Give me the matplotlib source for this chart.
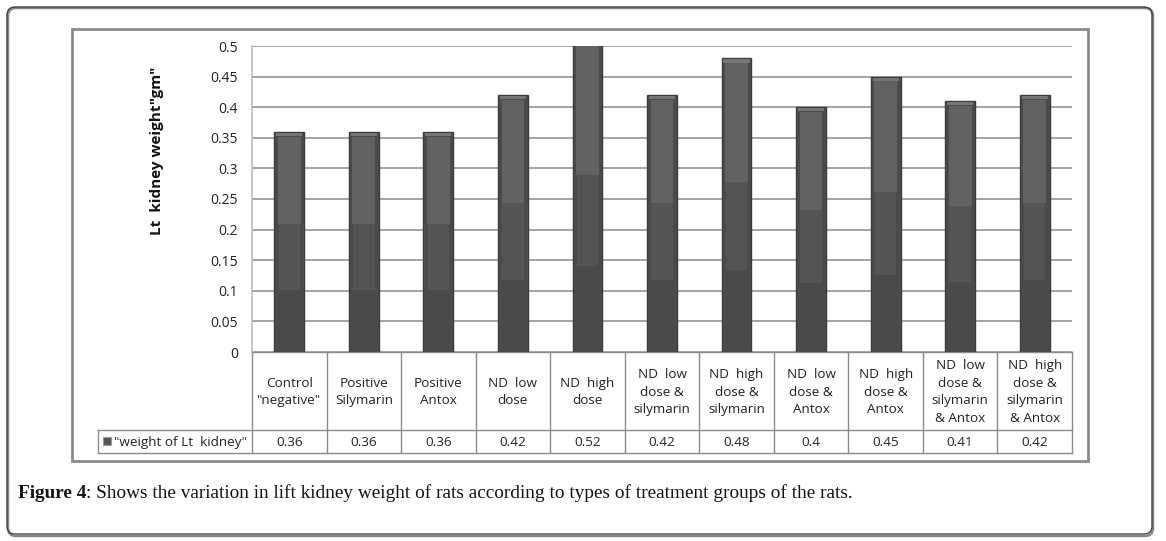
import matplotlib
matplotlib.use("Agg")
import matplotlib.pyplot as plt
from matplotlib.patches import Rectangle, FancyBboxPatch
from matplotlib import transforms

categories = ["Control\n\"negative\"", "Positive\nSilymarin", "Positive\nAntox",
              "ND  low\ndose", "ND  high\ndose", "ND  low\ndose &\nsilymarin",
              "ND  high\ndose &\nsilymarin", "ND  low\ndose &\nAntox",
              "ND  high\ndose &\nAntox", "ND  low\ndose &\nsilymarin\n& Antox",
              "ND  high\ndose &\nsilymarin\n& Antox"]
values = [0.36, 0.36, 0.36, 0.42, 0.52, 0.42, 0.48, 0.40, 0.45, 0.41, 0.42]
value_labels = ["0.36", "0.36", "0.36", "0.42", "0.52", "0.42", "0.48", "0.4", "0.45", "0.41", "0.42"]
yticks = [0, 0.05, 0.1, 0.15, 0.2, 0.25, 0.3, 0.35, 0.4, 0.45, 0.5]
ytick_labels = ["0", "0.05", "0.1", "0.15", "0.2", "0.25", "0.3", "0.35", "0.4", "0.45", "0.5"]
series_name = "\"weight of Lt  kidney\""
ylabel = "Lt  kidney weight\"gm\""
caption_bold = "Figure 4"
caption_rest = ": Shows the variation in lift kidney weight of rats according to types of treatment groups of the rats."

W, H = 1166, 541
fig = plt.figure(figsize=(W / 100, H / 100), dpi=100)
SANS = "Open Sans"

# background axes in pixel coordinates
bg = fig.add_axes([0, 0, 1, 1])
bg.set_xlim(0, W)
bg.set_ylim(H, 0)
bg.axis("off")

# outer rounded border with slight shadow
bg.add_patch(FancyBboxPatch((8, 8), 1145, 528, boxstyle="round,pad=0,rounding_size=8",
                            fill=False, ec="#888888", lw=1.8))
bg.add_patch(FancyBboxPatch((7, 7), 1145, 527, boxstyle="round,pad=0,rounding_size=8",
                            fill=False, ec="#3a3a3a", lw=0.9))
# inner chart frame
bg.add_patch(Rectangle((72, 29), 1016, 432, fill=False, ec="#8a8a8a", lw=2.0))

# main plot axes
L, R, T, B = 252, 1072, 46, 352
ax = fig.add_axes([L / W, (H - B) / H, (R - L) / W, (B - T) / H])
ax.set_xlim(-0.5, len(values) - 0.5)
ax.set_ylim(0, 0.5)
ax.set_yticks(yticks)
ax.set_yticklabels(ytick_labels, fontsize=10, family=SANS, color="#222222")
ax.tick_params(axis="y", length=0, pad=10)
ax.set_xticks([])
for s in ["top", "right", "bottom"]:
    ax.spines[s].set_visible(False)
ax.spines["left"].set_color("#bbbbbb")
ax.spines["left"].set_linewidth(1.2)
ax.yaxis.grid(True, color="#8a8a8a", lw=1.1)
ax.set_axisbelow(True)

bw = 0.40
x = list(range(len(values)))
ax.bar(x, values, width=bw, color="#4b4b4b", edgecolor="#3c3c3c", lw=1.0, zorder=2)
for xi, v in zip(x, values):
    h = min(v, 0.5)
    top = v - 0.008
    # mid tone band
    ax.add_patch(Rectangle((xi - bw * 0.36, h * 0.28), bw * 0.72, top - h * 0.28,
                           color="#545454", lw=0, zorder=3))
    # light upper band
    ax.add_patch(Rectangle((xi - bw * 0.38, h * 0.58), bw * 0.76, top - h * 0.58,
                           color="#626262", lw=0, zorder=4))
    # top bevel cap
    ax.add_patch(Rectangle((xi - bw * 0.44, v - 0.007), bw * 0.88, 0.0055,
                           color="#767676", lw=0, zorder=5))

# y label placed in pixel coordinates
bg.text(157, 151, ylabel, rotation=90, ha="center", va="center", fontsize=11,
        fontweight="bold", family=SANS, color="#111111")

# data table below the plot
tr = transforms.blended_transform_factory(ax.transData, bg.transData)
row1_top, row1_bot, row2_bot, tab_left = 352, 430, 453, 98
lc = "#8a8a8a"
for b in [i - 0.5 for i in range(len(values) + 1)]:
    bg.plot([b, b], [row1_top, row2_bot], color=lc, lw=1, transform=tr, clip_on=False)
bg.plot([tab_left, R], [row1_bot, row1_bot], color=lc, lw=1)
bg.plot([tab_left, R], [row2_bot, row2_bot], color=lc, lw=1)
bg.plot([tab_left, tab_left], [row1_bot, row2_bot], color=lc, lw=1)
bg.plot([L, R], [row1_top, row1_top], color=lc, lw=1)
for xi, c, vl in zip(x, categories, value_labels):
    bg.text(xi, (row1_top + row1_bot) / 2 + 1, c, transform=tr, ha="center", va="center",
            fontsize=9.7, family=SANS, color="#222222", linespacing=1.45)
    bg.text(xi, (row1_bot + row2_bot) / 2 + 1, vl, transform=tr, ha="center", va="center",
            fontsize=9.7, family=SANS, color="#222222")
bg.add_patch(Rectangle((103, 437), 8, 8, fc="#555555", ec="#999999", lw=0.8))
bg.text(114, (row1_bot + row2_bot) / 2 + 1, series_name, ha="left", va="center",
        fontsize=9.7, family=SANS, color="#222222")

# caption
t1 = bg.text(18, 493, caption_bold, ha="left", va="center", fontsize=13.9,
             family="Liberation Serif", fontweight="bold", color="#111111")
fig.canvas.draw()
bb = t1.get_window_extent()
bg.text(18 + bb.width, 493, caption_rest, ha="left", va="center", fontsize=13.9,
        family="Liberation Serif", color="#111111")

fig.savefig("out.png", dpi=100)
